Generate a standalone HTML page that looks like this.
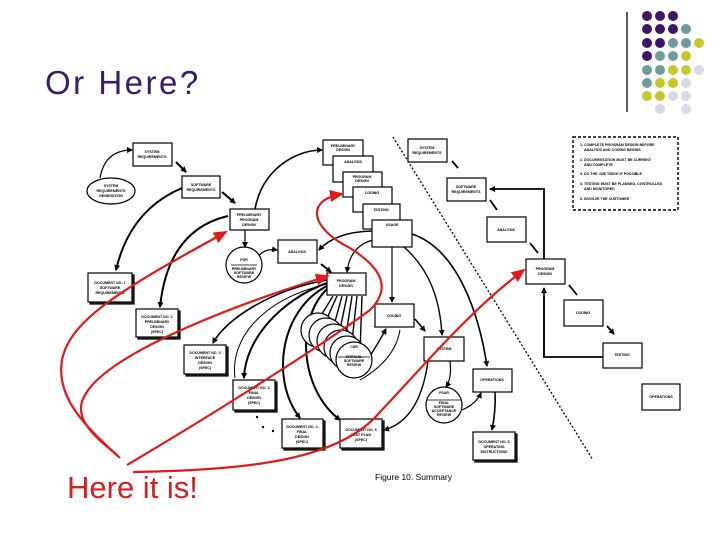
<!DOCTYPE html>
<html><head><meta charset="utf-8"><style>
html,body{margin:0;padding:0;background:#fff}
body{width:720px;height:540px;position:relative;overflow:hidden;font-family:"Liberation Sans",sans-serif}
.t{position:absolute;left:45px;top:64px;font-size:33px;color:#3a1a6a;letter-spacing:2.5px}
.h{position:absolute;left:67px;top:470px;font-size:31px;color:#d42020}
svg{position:absolute;left:0;top:0}
svg text{font-family:"Liberation Sans",sans-serif;font-weight:bold;font-size:3.6px;text-anchor:middle}
</style></head><body>
<div class="t">Or Here?</div>
<svg width="720" height="540" viewBox="0 0 720 540">
<defs>
<marker id="a" markerWidth="6" markerHeight="6" refX="5" refY="3" orient="auto" markerUnits="userSpaceOnUse"><path d="M0,0 L6,3 L0,6z" fill="#000"/></marker>
<marker id="r" markerWidth="14" markerHeight="12" refX="12" refY="6" orient="auto" markerUnits="userSpaceOnUse"><path d="M0,0 L14,6 L0,12z" fill="#e01a1a"/></marker>
</defs>
<line x1="627" y1="12" x2="627" y2="112" stroke="#000" stroke-width="1.3"/>
<g>
<circle cx="647" cy="16" r="5" fill="#3d1466"/><circle cx="660" cy="16" r="5" fill="#3d1466"/><circle cx="673" cy="16" r="5" fill="#3d1466"/>
<circle cx="647" cy="29" r="5" fill="#3d1466"/><circle cx="660" cy="29" r="5" fill="#3d1466"/><circle cx="673" cy="29" r="5" fill="#3d1466"/><circle cx="686" cy="29" r="5" fill="#6e9c9c"/>
<circle cx="647" cy="43" r="5" fill="#3d1466"/><circle cx="660" cy="43" r="5" fill="#3d1466"/><circle cx="673" cy="43" r="5" fill="#6e9c9c"/><circle cx="686" cy="43" r="5" fill="#6e9c9c"/><circle cx="699" cy="43" r="5" fill="#c8c82a"/>
<circle cx="647" cy="56" r="5" fill="#3d1466"/><circle cx="660" cy="56" r="5" fill="#6e9c9c"/><circle cx="673" cy="56" r="5" fill="#6e9c9c"/><circle cx="686" cy="56" r="5" fill="#c8c82a"/>
<circle cx="647" cy="70" r="5" fill="#6e9c9c"/><circle cx="660" cy="70" r="5" fill="#6e9c9c"/><circle cx="673" cy="70" r="5" fill="#c8c82a"/><circle cx="686" cy="70" r="5" fill="#c8c82a"/><circle cx="699" cy="70" r="5" fill="#d8d8e8"/>
<circle cx="647" cy="83" r="5" fill="#6e9c9c"/><circle cx="660" cy="83" r="5" fill="#c8c82a"/><circle cx="673" cy="83" r="5" fill="#c8c82a"/><circle cx="686" cy="83" r="5" fill="#d8d8e8"/>
<circle cx="647" cy="96" r="5" fill="#c8c82a"/><circle cx="660" cy="96" r="5" fill="#c8c82a"/><circle cx="673" cy="96" r="5" fill="#d8d8e8"/><circle cx="686" cy="96" r="5" fill="#d8d8e8"/>
<circle cx="660" cy="109" r="5" fill="#d8d8e8"/><circle cx="686" cy="109" r="5" fill="#d8d8e8"/>
</g>
<g fill="none" stroke="#000" stroke-width="1.2">
<path d="M100,178 Q105,150 132,150" marker-end="url(#a)"/>
<path d="M176,162 L186,172" stroke-width="2" marker-end="url(#a)"/>
<path d="M222,192 L235,203" stroke-width="2" marker-end="url(#a)"/>
<path d="M182,188 Q130,210 116,270" stroke-width="2" marker-end="url(#a)"/>
<path d="M255,209 C262,170 295,150 322,150" stroke-width="1.6" marker-end="url(#a)"/>
<path d="M245,230 L245,247" marker-end="url(#a)"/>
<path d="M258,257 Q264,248 277,250" marker-end="url(#a)"/>
<path d="M321,264 L331,272" stroke-width="1.8" marker-end="url(#a)"/>
<path d="M228,216 Q168,230 160,307" stroke-width="2" marker-end="url(#a)"/>
<path d="M372,231 Q335,232 319,250" stroke-width="1.6" marker-end="url(#a)"/>
<path d="M373,240 Q350,246 347,272" marker-end="url(#a)"/>
<path d="M392,247 L392,302" marker-end="url(#a)"/>
<path d="M404,247 C430,270 440,300 442,335" stroke-width="1.4" marker-end="url(#a)"/>
<path d="M412,234 C460,250 480,320 487,366" stroke-width="1.6" marker-end="url(#a)"/>
<path d="M333,296 L312,330 M337,296 L320,334 M342,296 L330,340 M347,296 L337,344 M352,296 L344,348 M357,296 L351,350 M362,296 L360,352" stroke-width="1.4" marker-end="url(#a)"/>
<path d="M327,280 C270,290 225,320 213,343" stroke-width="1.6" marker-end="url(#a)"/>
<path d="M327,283 C280,300 245,340 244,378" stroke-width="2" marker-end="url(#a)"/>
<path d="M327,286 C280,310 270,380 300,418" stroke-width="2" marker-end="url(#a)"/>
<path d="M327,289 C295,320 300,390 340,420" stroke-width="2" marker-end="url(#a)"/>
<path d="M327,284 C260,300 230,340 235,378" stroke-width="1"/>
<path d="M415,319 L425,331" stroke-width="1.6" marker-end="url(#a)"/>
<path d="M370,356 Q380,340 386,329" stroke-width="1.4" marker-end="url(#a)"/>
<path d="M450,361 Q452,378 446,387" marker-end="url(#a)"/>
<path d="M462,410 Q476,404 481,393" marker-end="url(#a)"/>
<path d="M495,392 Q496,410 492,430" stroke-width="1.6" marker-end="url(#a)"/>
<path d="M428,361 Q420,420 384,430" stroke-width="1.4" marker-end="url(#a)"/>
<path d="M400,330 Q395,360 360,380" stroke-width="1"/>
<path d="M452,161 L458,168 M490,200 L497,210 M530,243 L538,253 M569,285 L577,295 M607,326 L614,334" stroke-width="1.8" marker-end="url(#a)"/>
<path d="M544,296 L544,357 L603,357" stroke-width="1.8"/>
<path d="M544,357 L544,288" stroke-width="1.6" marker-end="url(#a)"/>
<path d="M544,259 L544,189 L490,189" stroke-width="1.8" marker-end="url(#a)"/>
</g>
<line x1="393" y1="137" x2="593" y2="460" stroke="#000" stroke-width="1.3" stroke-dasharray="2,2"/>
<rect x="573" y="137" width="105" height="73" fill="#fff" stroke="#000" stroke-width="1.4" stroke-dasharray="3,2"/>
<g font-size="3.4">
<text x="580" y="146" style="text-anchor:start">1. COMPLETE PROGRAM DESIGN BEFORE</text><text x="584" y="151" style="text-anchor:start">ANALYSIS AND CODING BEGINS</text>
<text x="580" y="161" style="text-anchor:start">2. DOCUMENTATION MUST BE CURRENT</text><text x="584" y="166" style="text-anchor:start">AND COMPLETE</text>
<text x="580" y="175" style="text-anchor:start">3. DO THE JOB TWICE IF POSSIBLE</text>
<text x="580" y="185" style="text-anchor:start">4. TESTING MUST BE PLANNED, CONTROLLED</text><text x="584" y="190" style="text-anchor:start">AND MONITORED</text>
<text x="580" y="200" style="text-anchor:start">5. INVOLVE THE CUSTOMER</text>
</g>
<g fill="#fff" stroke="#000" stroke-width="1.2">
<rect x="133" y="143" width="39" height="23"/>
<ellipse cx="111" cy="191" rx="24" ry="13"/>
<rect x="182" y="176" width="38" height="22"/>
<rect x="230" y="209" width="39" height="21"/>
<circle cx="244" cy="265" r="18"/>
<rect x="278" y="240" width="39" height="23"/>
<rect x="323" y="140" width="40" height="25"/>
<rect x="333" y="156" width="40" height="26"/>
<rect x="343" y="172" width="39" height="25"/>
<rect x="353" y="187" width="39" height="25"/>
<rect x="363" y="204" width="37" height="25"/>
<rect x="372" y="220" width="40" height="27"/>
<rect x="327" y="273" width="39" height="22"/>
<rect x="375" y="304" width="39" height="23"/>
<rect x="424" y="337" width="40" height="24"/>
<circle cx="444" cy="405" r="18"/>
<rect x="473" y="369" width="39" height="23"/>
<rect x="408" y="139" width="39" height="23"/>
<rect x="447" y="178" width="39" height="23"/>
<rect x="487" y="217" width="39" height="25"/>
<rect x="526" y="259" width="39" height="25"/>
<rect x="564" y="300" width="39" height="26"/>
<rect x="603" y="343" width="39" height="25"/>
<rect x="642" y="384" width="38" height="26"/>
<circle cx="318" cy="330" r="17"/><circle cx="326" cy="335" r="17"/><circle cx="334" cy="341" r="17"/><circle cx="341" cy="347" r="17"/><circle cx="347" cy="353" r="17"/><circle cx="354" cy="360" r="18"/>
</g>
<g fill="#fff" stroke="#000" stroke-width="1.2">
<rect x="90" y="275" width="44" height="29" fill="#333"/><rect x="88" y="273" width="44" height="29"/>
<rect x="138" y="311" width="42" height="28" fill="#333"/><rect x="136" y="309" width="42" height="28"/>
<rect x="186" y="347" width="42" height="29" fill="#333"/><rect x="184" y="345" width="42" height="29"/>
<rect x="235" y="382" width="42" height="30" fill="#333"/><rect x="233" y="380" width="42" height="30"/>
<rect x="284" y="421" width="41" height="29" fill="#333"/><rect x="282" y="419" width="41" height="29"/>
<rect x="342" y="421" width="42" height="29" fill="#333"/><rect x="340" y="419" width="42" height="29"/>
<rect x="475" y="434" width="42" height="28" fill="#333"/><rect x="473" y="432" width="42" height="28"/>
</g>
<line x1="231" y1="265" x2="257" y2="265" stroke="#000" stroke-width="0.8"/>
<line x1="338" y1="357" x2="370" y2="357" stroke="#000" stroke-width="0.8"/>
<line x1="427" y1="400" x2="461" y2="400" stroke="#000" stroke-width="0.8"/>
<circle cx="257" cy="417" r="1.2"/><circle cx="263" cy="427" r="1.2"/><circle cx="273" cy="431" r="1.2"/>
<g>
<text x="152" y="153">SYSTEM</text><text x="152" y="158">REQUIREMENTS</text>
<text x="111" y="187">SYSTEM</text><text x="111" y="192">REQUIREMENTS</text><text x="111" y="197">GENERATION</text>
<text x="201" y="186">SOFTWARE</text><text x="201" y="191">REQUIREMENTS</text>
<text x="249" y="216">PRELIMINARY</text><text x="249" y="221">PROGRAM</text><text x="249" y="226">DESIGN</text>
<text x="244" y="261">PSR</text><text x="244" y="270">PRELIMINARY</text><text x="244" y="274">SOFTWARE</text><text x="244" y="278">REVIEW</text>
<text x="297" y="253">ANALYSIS</text>
<text x="343" y="147">PRELIMINARY</text><text x="343" y="151">DESIGN</text>
<text x="353" y="163">ANALYSIS</text>
<text x="362" y="178">PROGRAM</text><text x="362" y="182">DESIGN</text>
<text x="372" y="194">CODING</text>
<text x="381" y="211">TESTING</text>
<text x="392" y="226">USAGE</text>
<text x="346" y="282">PROGRAM</text><text x="346" y="287">DESIGN</text>
<text x="394" y="317">CODING</text>
<text x="444" y="350">SYSTEM</text>
<text x="444" y="394">FSAR</text><text x="444" y="404">FINAL</text><text x="444" y="408">SOFTWARE</text><text x="444" y="412">ACCEPTANCE</text><text x="444" y="416">REVIEW</text>
<text x="492" y="381">OPERATIONS</text>
<text x="354" y="348">CSR</text><text x="354" y="358">CRITICAL</text><text x="354" y="362">SOFTWARE</text><text x="354" y="366">REVIEW</text>
<text x="427" y="149">SYSTEM</text><text x="427" y="154">REQUIREMENTS</text>
<text x="466" y="188">SOFTWARE</text><text x="466" y="193">REQUIREMENTS</text>
<text x="506" y="231">ANALYSIS</text>
<text x="545" y="270">PROGRAM</text><text x="545" y="275">DESIGN</text>
<text x="583" y="314">CODING</text>
<text x="622" y="356">TESTING</text>
<text x="661" y="398">OPERATIONS</text>
<text x="110" y="284">DOCUMENT NO. 1</text><text x="110" y="289">SOFTWARE</text><text x="110" y="294">REQUIREMENTS</text>
<text x="157" y="318">DOCUMENT NO. 2</text><text x="157" y="323">PRELIMINARY</text><text x="157" y="328">DESIGN</text><text x="157" y="333">(SPEC)</text>
<text x="205" y="354">DOCUMENT NO. 3</text><text x="205" y="359">INTERFACE</text><text x="205" y="364">DESIGN</text><text x="205" y="369">(SPEC)</text>
<text x="254" y="389">DOCUMENT NO. 4</text><text x="254" y="394">FINAL</text><text x="254" y="399">DESIGN</text><text x="254" y="404">(SPEC)</text>
<text x="302" y="428">DOCUMENT NO. 4</text><text x="302" y="433">FINAL</text><text x="302" y="438">DESIGN</text><text x="302" y="443">(SPEC)</text>
<text x="361" y="431">DOCUMENT NO. 5</text><text x="361" y="436">TEST PLAN</text><text x="361" y="441">(SPEC)</text>
<text x="494" y="443">DOCUMENT NO. 6</text><text x="494" y="448">OPERATING</text><text x="494" y="453">INSTRUCTIONS</text>
</g>
<text x="375" y="480" style="text-anchor:start;font-weight:normal;font-size:8.5px">Figure 10.  Summary</text>
<g fill="none" stroke="#e01a1a" stroke-width="2.2">
<path d="M120,458 C90,430 55,400 62,360 C70,320 120,290 226,232" marker-end="url(#r)"/>
<path d="M118,456 C100,440 70,420 85,395 C110,350 250,300 328,276" marker-end="url(#r)"/>
<path d="M127,465 C220,410 330,340 370,310 C390,290 385,270 350,248 C310,228 305,200 342,194" marker-end="url(#r)"/>
<path d="M133,472 C250,470 340,460 380,412 C420,370 470,310 524,270" marker-end="url(#r)"/>
</g>
</svg>
<div class="h">Here it is!</div>
</body></html>
